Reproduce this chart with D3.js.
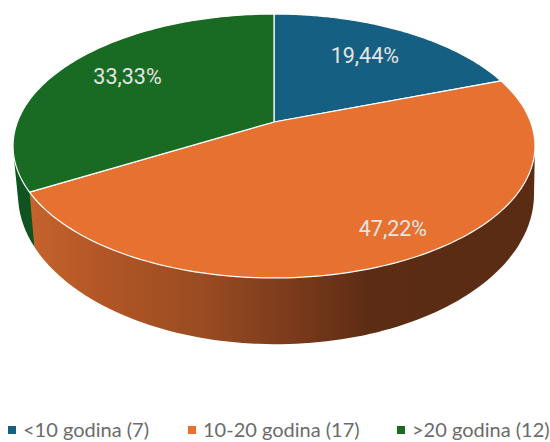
<!DOCTYPE html>
<html>
<head>
<meta charset="utf-8">
<script src="https://cdn.jsdelivr.net/npm/d3@7"></script>
<style>
  html, body { margin: 0; padding: 0; background: #fff; }
</style>
</head>
<body>
<svg id="svg"></svg>
<script>
// chart data
const categories = ["<10 godina", "10-20 godina", ">20 godina"];
const counts = [7, 17, 12];
const colors = ["#156082", "#e67130", "#196b24"];

const width = 550;
const height = 442;

// perspective of the disc: the far edge shrinks by this factor
const tilt = 0.1818;

// unit disc -> pixels, one pair of scales for the top face, one for the bottom rim
const topX = d3.scaleLinear().domain([-1, 1]).range([274 - 256.6, 274 + 256.6]);
const topY = d3.scaleLinear().domain([-1, 1]).range([122 + 127.6, 122 - 127.6]);
const botX = d3.scaleLinear().domain([-1, 1]).range([276 - 253.7, 276 + 253.7]);
const botY = d3.scaleLinear().domain([-1, 1]).range([167 + 145, 167 - 145]);

// wall of the orange slice goes from mid brown to very dark
const wallStops = [
    [0.00, "#c4632d"], [0.14, "#b35626"], [0.34, "#9a4c22"],
    [0.54, "#78391b"], [0.68, "#5c2c14"], [1.00, "#5a2c14"]
];

// label placement, radius on the disc and small angle shift in degrees
const labelRadius = [0.70, 0.83, 0.72];
const labelShift = [-1, -4, 2];

let svg = d3.select("#svg").attr("width", width).attr("height", height)
    .style("display", "block");

const total = d3.sum(counts);
const slices = d3.pie().sort(null)(counts);

function project(angle, r, sx, sy) {
    let u = r * Math.sin(angle);
    let v = r * Math.cos(angle);
    let d = 1 + tilt * v;
    return [sx(u / d), sy(v / d)];
}

function rim(a0, a1, sx, sy) {
    return d3.range(0, 121).map(i => project(a0 + (a1 - a0) * i / 120, 1, sx, sy));
}

function percentLabel(v) {
    return d3.format(".2f")(v / total * 100).replace(".", ",") + "%";
}

let defs = svg.append("defs");
let grad = defs.append("linearGradient")
    .attr("id", "wall")
    .attr("gradientUnits", "userSpaceOnUse")
    .attr("x1", 30).attr("x2", 530).attr("y1", 0).attr("y2", 0);
grad.selectAll("stop").data(wallStops).join("stop")
    .attr("offset", d => d[0])
    .attr("stop-color", d => d[1]);

const line = d3.line();

// side walls: green stub first, orange over it
let greenSlice = slices[2];
let greenWall = d3.polygonHull(
    rim(greenSlice.startAngle, greenSlice.startAngle + 0.9, topX, topY)
        .concat(rim(greenSlice.startAngle, greenSlice.startAngle + 0.9, botX, botY)
            .filter(p => p[1] > 0))
);
svg.append("path")
    .attr("d", line(greenWall) + "Z")
    .attr("fill", "#0f5320");

let orangeSlice = slices[1];
let orangeWall = d3.polygonHull(
    rim(orangeSlice.startAngle, orangeSlice.endAngle, topX, topY)
        .concat(rim(orangeSlice.startAngle, orangeSlice.endAngle, botX, botY))
);
svg.append("path")
    .attr("d", line(orangeWall) + "Z")
    .attr("fill", "url(#wall)");

// top face
svg.append("g").selectAll("path").data(slices).join("path")
    .attr("d", d => line([project(0, 0, topX, topY)].concat(rim(d.startAngle, d.endAngle, topX, topY))) + "Z")
    .attr("fill", (d, i) => colors[i])
    .attr("stroke", "#fff")
    .attr("stroke-width", 1.2)
    .attr("stroke-linejoin", "round");

// data labels
svg.append("g").selectAll("text").data(slices).join("text")
    .attr("x", (d, i) => project((d.startAngle + d.endAngle) / 2 + labelShift[i] * Math.PI / 180, labelRadius[i], topX, topY)[0])
    .attr("y", (d, i) => project((d.startAngle + d.endAngle) / 2 + labelShift[i] * Math.PI / 180, labelRadius[i], topX, topY)[1])
    .attr("dy", "0.36em")
    .attr("text-anchor", "middle")
    .attr("font-family", "Roboto, sans-serif")
    .attr("font-size", 21.5)
    .attr("fill", "#e4e4e4")
    .text(d => percentLabel(d.value));

// legend
const legendX = [8, 188, 397];
let legend = svg.append("g").selectAll("g").data(categories).join("g")
    .attr("transform", (d, i) => "translate(" + legendX[i] + ",430)");
legend.append("rect")
    .attr("x", 0).attr("y", -4).attr("width", 8).attr("height", 8)
    .attr("fill", (d, i) => colors[i]);
legend.append("text")
    .attr("x", 15)
    .attr("dy", "0.36em")
    .attr("font-family", "Lato, sans-serif")
    .attr("font-size", 20)
    .attr("fill", "#6b6b6b")
    .text((d, i) => d + " (" + counts[i] + ")");
</script>
</body>
</html>
